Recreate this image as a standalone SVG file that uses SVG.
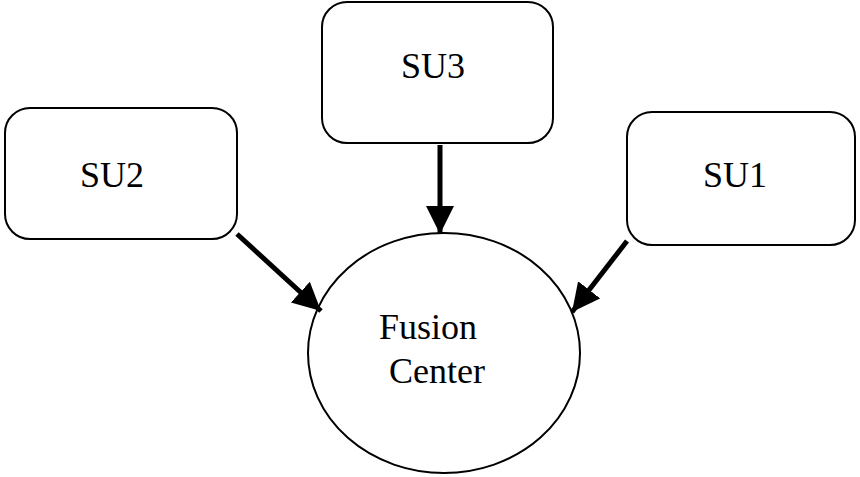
<svg xmlns="http://www.w3.org/2000/svg" width="860" height="477" viewBox="0 0 860 477">
<style>
.box{fill:#fff;stroke:#000;stroke-width:2}
.t{font-family:"Liberation Serif",serif;font-size:36px;fill:#000;text-anchor:middle}
.c{stroke:#000;stroke-width:5;fill:none}
</style>
<defs>
<marker id="ah" markerUnits="userSpaceOnUse" markerWidth="30" markerHeight="30" refX="28" refY="14" orient="auto">
<path d="M0,0 L28,14 L0,28 Z" fill="#000"/>
</marker>
</defs>
<g id="su3"><rect class="box" x="322" y="2" width="231" height="141" rx="25"/><text class="t" x="433" y="78">SU3</text></g>
<g id="su2"><rect class="box" x="5" y="108" width="232" height="131" rx="25"/><text class="t" x="112" y="187">SU2</text></g>
<g id="su1"><rect class="box" x="627" y="112" width="228" height="133" rx="25"/><text class="t" x="735" y="187">SU1</text></g>
<g id="fc"><ellipse class="box" cx="444" cy="353" rx="136" ry="120"/><text class="t" x="428" y="339">Fusion</text><text class="t" x="437" y="383">Center</text></g>
<g id="connectors">
<line class="c" x1="237" y1="234" x2="321" y2="311" marker-end="url(#ah)"/>
<line class="c" x1="440" y1="145" x2="440" y2="234" marker-end="url(#ah)"/>
<line class="c" x1="627" y1="241" x2="572" y2="312" marker-end="url(#ah)"/>
</g>
</svg>
